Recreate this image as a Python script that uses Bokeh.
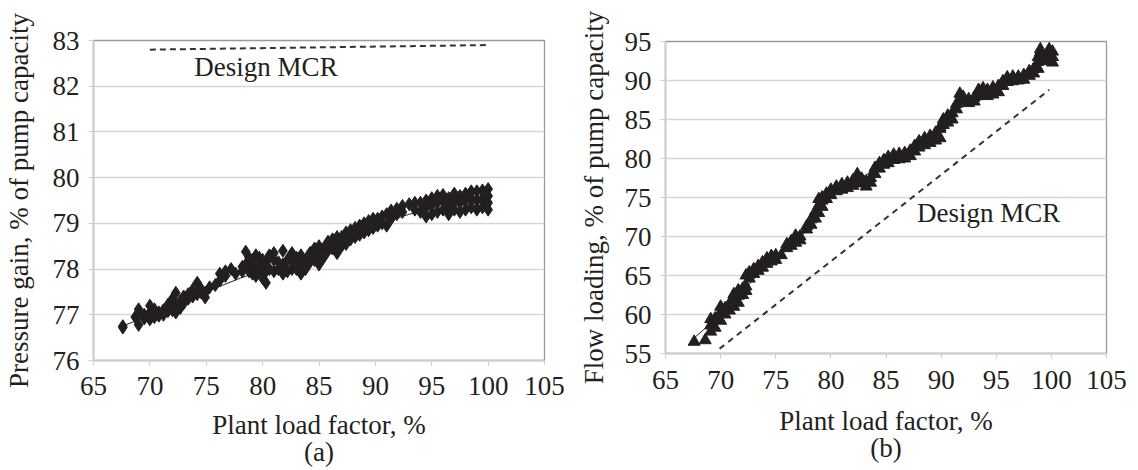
from bokeh.plotting import figure
from bokeh.models import Label, Range1d, FixedTicker
from bokeh.layouts import row, column
from bokeh.embed import file_html
from bokeh.resources import INLINE

FONT = "Liberation Serif"
INK = "#231f20"

# ---------------- data : panel (a) ----------------
x_ticks = [65, 70, 75, 80, 85, 90, 95, 100, 105]
a_yticks = [76, 77, 78, 79, 80, 81, 82, 83]

a_x = [67.6, 67.6, 68.7, 69.0, 69.0, 69.0, 69.5, 69.5, 70.0, 70.0, 70.0,
       70.4, 70.4, 70.8, 70.8, 71.2, 71.2, 71.6, 71.6, 72.0, 72.0,
       72.3, 72.3, 72.3, 72.7, 72.7, 73.0, 73.0, 73.4, 73.4, 73.8, 73.8,
       74.2, 74.2, 74.5, 74.5, 74.9, 74.9, 75.3, 75.8, 76.2, 76.2,
       76.7, 76.7, 77.2, 77.6, 78.2, 78.2, 78.5, 78.5,
       78.8, 78.8, 78.8, 79.1, 79.1, 79.1, 79.4, 79.4, 79.4,
       79.7, 79.7, 79.7, 80.0, 80.0, 80.0, 80.3, 80.3, 80.3,
       80.6, 80.6, 81.0, 81.0, 81.0, 81.4, 81.4, 81.8, 81.8, 81.8,
       82.2, 82.2, 82.6, 82.6, 82.6, 83.0, 83.0, 83.4, 83.4, 83.4,
       83.8, 83.8, 84.2, 84.2, 84.6, 84.6, 85.0, 85.0, 85.0,
       85.4, 85.4, 85.8, 85.8, 86.2, 86.2, 86.6, 86.6, 86.6,
       87.0, 87.0, 87.4, 87.4, 87.8, 87.8, 88.2, 88.2, 88.6, 88.6,
       89.0, 89.0, 89.4, 89.4, 89.8, 89.8, 90.2, 90.2, 90.6, 90.6,
       91.0, 91.0, 91.4, 91.4, 91.9, 91.9, 92.4, 92.4, 93.0, 93.5, 93.5,
       94.0, 94.0, 94.5, 94.5, 94.5, 95.0, 95.0, 95.0, 95.5, 95.5, 95.5,
       96.0, 96.0, 96.0, 96.5, 96.5, 96.5, 97.0, 97.0, 97.0,
       97.5, 97.5, 97.5, 98.0, 98.0, 98.0, 98.5, 98.5, 98.5,
       99.0, 99.0, 99.0, 99.5, 99.5, 99.5, 100.0, 100.0, 100.0, 100.0]
a_y = [76.75, 76.72, 76.95, 76.78, 77.05, 77.12, 76.92, 77.0, 76.9, 77.05, 77.2,
       76.95, 77.12, 76.98, 77.05, 77.0, 77.1, 77.08, 77.22, 77.1, 77.35,
       77.05, 77.2, 77.48, 77.15, 77.3, 77.25, 77.4, 77.35, 77.45, 77.4, 77.55,
       77.45, 77.7, 77.5, 77.58, 77.38, 77.48, 77.6, 77.65, 77.75, 77.9,
       77.85, 77.95, 78.0, 77.9, 78.05, 77.95, 78.38, 78.1,
       77.95, 78.15, 78.25, 77.9, 78.05, 78.2, 77.85, 78.0, 78.3,
       77.95, 78.1, 78.25, 77.8, 78.0, 78.2, 77.7, 77.95, 78.15,
       78.0, 78.3, 77.95, 78.2, 78.35, 78.0, 78.15, 77.9, 78.1, 78.4,
       77.95, 78.2, 78.0, 78.15, 78.35, 78.0, 78.25, 77.9, 78.1, 78.3,
       78.0, 78.2, 78.15, 78.35, 78.2, 78.45, 78.1, 78.3, 78.5,
       78.25, 78.45, 78.4, 78.6, 78.45, 78.65, 78.35, 78.55, 78.7,
       78.5, 78.7, 78.55, 78.8, 78.65, 78.85, 78.7, 78.9, 78.75, 78.95,
       78.8, 79.0, 78.85, 79.05, 78.9, 79.1, 78.95, 79.1, 79.0, 79.15,
       78.95, 79.2, 79.1, 79.28, 79.2, 79.32, 79.25, 79.38, 79.42, 79.45, 79.3,
       79.25, 79.45, 79.15, 79.35, 79.5, 79.2, 79.4, 79.55, 79.25, 79.45, 79.6,
       79.3, 79.5, 79.62, 79.2, 79.4, 79.55, 79.3, 79.5, 79.65,
       79.25, 79.45, 79.6, 79.3, 79.5, 79.65, 79.35, 79.55, 79.7,
       79.3, 79.5, 79.7, 79.35, 79.55, 79.72, 79.3, 79.45, 79.6, 79.75]

a_trend_x = [67.6, 70, 72, 75, 78, 80, 82, 84, 86, 88, 90, 92, 93, 95, 97, 100]
a_trend_y = [76.75, 77.0, 77.2, 77.5, 77.8, 77.97, 78.1, 78.25, 78.5, 78.75,
             78.95, 79.12, 79.2, 79.3, 79.38, 79.48]

a_mcr_x = [70, 100]
a_mcr_y = [82.80, 82.90]

# ---------------- data : panel (b) ----------------
b_yticks = [55, 60, 65, 70, 75, 80, 85, 90, 95]

b_x = [67.6, 68.6, 69.1, 69.1, 69.1, 69.5, 69.5, 70.0, 70.0, 70.0,
       70.4, 70.4, 70.8, 70.8, 71.2, 71.2, 71.2, 71.6, 71.6, 71.6,
       72.0, 72.0, 72.3, 72.3, 72.3, 72.6, 72.6, 73.0, 73.0, 73.4, 73.4,
       73.8, 73.8, 74.2, 74.2, 74.6, 74.6, 75.0, 75.0, 75.5,
       76.0, 76.0, 76.4, 76.4, 76.8, 76.8, 76.8, 77.2, 77.2,
       77.8, 77.8, 78.2, 78.2, 78.6, 78.6, 78.9, 78.9, 78.9,
       79.2, 79.2, 79.2, 79.6, 79.6, 80.0, 80.0, 80.5, 80.5,
       81.0, 81.0, 81.5, 81.5, 82.0, 82.0, 82.4, 82.4, 82.4,
       82.8, 82.8, 83.2, 83.2, 83.6, 83.6, 84.0, 84.0, 84.4, 84.4,
       84.8, 84.8, 85.2, 85.2, 85.7, 85.7, 86.2, 86.2, 86.7, 86.7,
       87.2, 87.2, 87.6, 87.6, 88.0, 88.0, 88.5, 88.5, 89.0, 89.0,
       89.5, 89.5, 89.9, 89.9, 89.9, 90.2, 90.2, 90.6, 90.6, 91.0, 91.0,
       91.4, 91.4, 91.7, 91.7, 92.0, 92.0, 92.5, 92.5, 93.0, 93.0,
       93.4, 93.4, 93.8, 93.8, 94.2, 94.2, 94.7, 94.7, 95.2, 95.2,
       95.6, 95.6, 96.0, 96.0, 96.5, 96.5, 97.0, 97.0, 97.5, 97.5,
       98.0, 98.0, 98.4, 98.4, 98.8, 98.8, 98.8, 99.0, 99.0, 99.0,
       99.4, 99.4, 99.8, 99.8, 99.8, 100.1, 100.1, 100.1]
b_y = [56.5, 56.7, 57.8, 58.6, 59.4, 58.3, 59.5, 59.2, 60.3, 61.0,
       60.0, 60.8, 60.5, 61.4, 61.0, 61.8, 62.6, 61.5, 62.4, 63.1,
       62.5, 63.3, 63.0, 63.6, 65.0, 64.6, 65.4, 65.2, 65.8, 65.6, 66.2,
       66.0, 66.7, 66.5, 67.2, 66.8, 67.5, 67.0, 67.6, 67.6,
       68.5, 69.0, 68.8, 69.4, 69.2, 69.8, 70.1, 69.5, 70.0,
       70.9, 71.3, 71.5, 72.2, 72.3, 73.2, 73.0, 74.0, 74.8,
       73.8, 74.6, 75.0, 74.8, 75.5, 75.3, 76.0, 75.8, 76.4,
       76.0, 76.7, 76.2, 76.9, 76.5, 77.2, 76.9, 77.6, 78.0,
       76.8, 77.4, 76.4, 77.0, 76.9, 77.5, 78.0, 78.8, 78.7, 79.4,
       79.2, 79.8, 79.4, 80.2, 79.8, 80.5, 79.9, 80.6, 80.0, 80.7,
       80.3, 81.0, 80.9, 81.6, 81.4, 82.2, 81.7, 82.6, 82.0, 82.9,
       82.3, 83.3, 82.6, 83.8, 84.0, 84.3, 85.0, 84.6, 85.5, 85.0, 85.8,
       86.3, 87.0, 87.3, 88.3, 87.3, 87.9, 87.1, 87.6, 87.3, 87.8,
       88.0, 88.8, 88.2, 89.0, 88.0, 88.8, 88.2, 89.1, 88.5, 89.3,
       89.3, 89.9, 89.8, 90.4, 89.9, 90.5, 90.0, 90.5, 90.1, 90.7,
       90.6, 91.2, 90.9, 91.5, 91.5, 92.4, 93.0, 92.5, 93.6, 94.0,
       92.6, 93.1, 92.5, 93.4, 94.0, 92.3, 93.0, 93.7]

b_trend_x = [67.6, 69, 70, 72, 74, 76, 77.5, 79, 80, 82, 84, 86, 88, 90, 92, 94, 96, 98, 100]
b_trend_y = [57.0, 58.7, 60.2, 63.0, 66.0, 68.3, 70.3, 73.5, 75.2, 76.9, 78.6,
             80.2, 81.8, 84.0, 87.0, 88.5, 89.9, 91.0, 92.7]

b_mcr_x = [69.9, 99.8]
b_mcr_y = [55.6, 88.8]

assert len(a_x) == len(a_y) and len(b_x) == len(b_y)


def make(width, borders, yr, yticks, ylabel, ystandoff, sub, xstand):
    left, right, top, bottom = borders
    p = figure(width=width, height=470, output_backend="svg", toolbar_location=None,
               x_range=Range1d(65, 105), y_range=Range1d(*yr),
               min_border_left=left, min_border_right=right,
               min_border_top=top, min_border_bottom=bottom,
               background_fill_color="white", border_fill_color="white")
    p.xaxis.axis_label = "Plant load factor, %\n" + sub
    p.yaxis.axis_label = ylabel
    p.xaxis.ticker = FixedTicker(ticks=x_ticks)
    p.yaxis.ticker = FixedTicker(ticks=yticks)
    for ax in (p.xaxis[0], p.yaxis[0]):
        ax.axis_label_text_font = FONT
        ax.axis_label_text_font_size = "27px"
        ax.axis_label_text_font_style = "normal"
        ax.axis_label_text_color = INK
        ax.axis_label_text_line_height = 0.92
        ax.major_label_text_font = FONT
        ax.major_label_text_font_size = "27px"
        ax.major_label_text_color = INK
        ax.axis_line_color = "#cfcfcf"
        ax.axis_line_width = 2
        ax.major_tick_line_color = "#cfcfcf"
        ax.major_tick_line_width = 1
        ax.major_tick_in = 0
        ax.major_tick_out = 5
        ax.minor_tick_line_color = None
        ax.major_label_standoff = 9
    p.xaxis.major_label_standoff = xstand[0]
    p.xaxis.axis_label_standoff = xstand[1]
    p.yaxis.axis_label_standoff = ystandoff
    p.xgrid.visible = False
    p.ygrid.ticker = FixedTicker(ticks=yticks)
    p.ygrid.grid_line_color = "#d6d6d6"
    p.ygrid.grid_line_width = 1.3
    p.outline_line_color = "#9a9a9a"
    p.outline_line_width = 1.3
    return p


pa = make(570, (91, 26, 40, 108), (76, 83), a_yticks,
          "Pressure gain, % of pump capacity", 16, "(a)", (11, 12))
pa.line(a_trend_x, a_trend_y, line_color=INK, line_width=1)
pa.scatter(a_x, a_y, marker="diamond", size=13, color=INK)
pa.line(a_mcr_x, a_mcr_y, line_color="#333333", line_width=2, line_dash="6 4")
pa.add_layout(Label(x=80.3, y=82.42, text="Design MCR", text_font=FONT,
                    text_font_size="27px", text_color=INK,
                    text_align="center", text_baseline="middle"))

pb = make(568, (95, 32, 41, 117), (55, 95), b_yticks,
          "Flow loading, % of pump capacity", 13, "(b)", (12, 14))
pb.line(b_trend_x, b_trend_y, line_color=INK, line_width=1)
pb.scatter(b_x, b_y, marker="triangle", size=12, color=INK)
pb.line(b_mcr_x, b_mcr_y, line_color="#333333", line_width=2, line_dash="6 5")
pb.add_layout(Label(x=94.3, y=73.0, text="Design MCR", text_font=FONT,
                    text_font_size="27px", text_color=INK,
                    text_align="center", text_baseline="middle"))

layout = row(column(pa), column(pb))
open("out.html", "w").write(file_html(layout, INLINE))
